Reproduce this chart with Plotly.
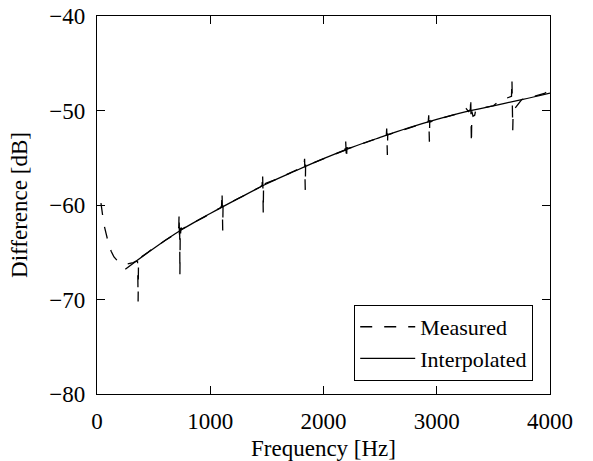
import plotly.graph_objects as go

# Interpolated curve
interp_freq = [250, 500, 750, 1000, 1250, 1500, 1750, 2000, 2250, 2500, 2750,
               3000, 3250, 3500, 3750, 4000]
interp_db = [-66.8, -64.6, -62.6, -60.9, -59.3, -57.75, -56.4, -55.1, -53.9,
             -52.85, -51.85, -50.95, -50.15, -49.5, -48.85, -48.15]

# Measured curve
meas_freq = [35, 45, 60, 80, 100, 125, 150, 180, 220, 260, 290, 320, 345, 358,
             361, 363, 366, 368, 380, 400, 450, 500, 550, 600, 650, 690, 715,
             722, 725, 728, 730, 732, 735, 738, 742, 750, 800, 850, 900, 950,
             1000, 1050, 1090, 1100, 1104, 1107, 1110, 1113, 1118, 1150, 1200,
             1250, 1300, 1350, 1400, 1440, 1458, 1462, 1465, 1468, 1471, 1475,
             1490, 1550, 1600, 1650, 1700, 1750, 1800, 1828, 1833, 1836, 1839,
             1842, 1846, 1900, 1950, 2000, 2050, 2100, 2150, 2190, 2195, 2199,
             2203, 2207, 2215, 2250, 2300, 2350, 2400, 2450, 2500, 2540, 2555,
             2558, 2561, 2564, 2567, 2575, 2600, 2650, 2700, 2750, 2800, 2850,
             2900, 2925, 2929, 2932, 2935, 2938, 2945, 3000, 3050, 3100, 3150,
             3200, 3240, 3260, 3280, 3297, 3300, 3303, 3306, 3310, 3320, 3335,
             3345, 3400, 3450, 3500, 3550, 3600, 3640, 3660, 3664, 3668, 3671,
             3675, 3700, 3730, 3750, 3800, 3850, 3900, 3950, 4000]
meas_db = [-59.8, -61.0, -62.0, -63.0, -64.0, -64.9, -65.5, -65.9, -66.2, -66.25,
           -66.2, -66.1, -65.95, -66.0, -68.0, -70.2, -66.5, -65.7, -65.6, -65.5,
           -65.0, -64.55, -64.2, -63.75, -63.4, -63.1, -62.9, -62.3, -60.9, -63.4,
           -62.4, -67.4, -62.6, -63.0, -62.4, -62.55, -62.2, -61.9, -61.55, -61.25,
           -60.9, -60.55, -60.3, -60.1, -58.6, -60.4, -62.7, -60.1, -60.2, -59.9,
           -59.6, -59.3, -58.95, -58.7, -58.35, -58.1, -57.9, -56.65, -58.2, -60.9,
           -57.6, -57.9, -57.7, -57.45, -57.2, -56.9, -56.65, -56.4, -56.1, -55.95,
           -55.1, -56.4, -58.4, -55.6, -55.9, -55.6, -55.35, -55.1, -54.85, -54.6,
           -54.35, -54.2, -53.0, -54.6, -55.2, -53.9, -54.0, -53.9, -53.7, -53.45,
           -53.25, -53.05, -52.85, -52.7, -52.6, -51.9, -53.0, -54.7, -52.5, -52.55,
           -52.45, -52.25, -52.05, -51.85, -51.65, -51.5, -51.3, -51.2, -50.5, -51.6,
           -53.3, -51.0, -51.2, -50.95, -50.8, -50.6, -50.45, -50.3, -50.0, -49.8,
           -50.1, -49.9, -48.6, -50.6, -53.5, -50.1, -50.6, -50.5, -49.9, -49.75,
           -49.65, -49.5, -49.0, -48.8, -48.6, -48.5, -46.7, -49.2, -52.1, -50.0,
           -49.6, -49.1, -48.85, -48.7, -48.55, -48.4, -48.2, -47.85]

x_ticks = [0, 1000, 2000, 3000, 4000]
y_ticks = [-80, -70, -60, -50, -40]

FONT = "Times New Roman"
FS = 23

fig = go.Figure()
fig.add_trace(go.Scatter(
    x=meas_freq, y=meas_db, mode="lines", name="Measured",
    line=dict(color="black", width=1.3, dash="12px,12px"),
))
fig.add_trace(go.Scatter(
    x=interp_freq, y=interp_db, mode="lines", name="Interpolated",
    line=dict(color="black", width=1.3, shape="spline"),
))

def axis(title, rng, ticks, standoff):
    return dict(
        range=rng, tickvals=ticks, automargin=False,
        showline=True, linecolor="black", linewidth=1.3, mirror="allticks",
        ticks="inside", ticklen=8, tickwidth=1.2, tickcolor="black",
        showgrid=False, zeroline=False,
        tickfont=dict(family=FONT, size=FS, color="black"),
        title=dict(text=title, font=dict(family=FONT, size=FS, color="black")),
        ticklabelstandoff=standoff,
    )

fig.update_layout(
    width=593, height=461,
    margin=dict(l=97, r=43, t=16, b=67),
    paper_bgcolor="white", plot_bgcolor="white",
    font=dict(family=FONT, size=FS, color="black"),
    xaxis=axis("Frequency [Hz]", [0, 4000], x_ticks, 6),
    yaxis=axis("Difference [dB]", [-80, -40], y_ticks, 6),
    legend=dict(x=0.9625, y=0.035, xanchor="right", yanchor="bottom",
                bordercolor="black", borderwidth=1.2, bgcolor="white",
                font=dict(family=FONT, size=22, color="black"),
                tracegroupgap=0, itemwidth=55),
    showlegend=True,
)

fig.write_html("out.html")
